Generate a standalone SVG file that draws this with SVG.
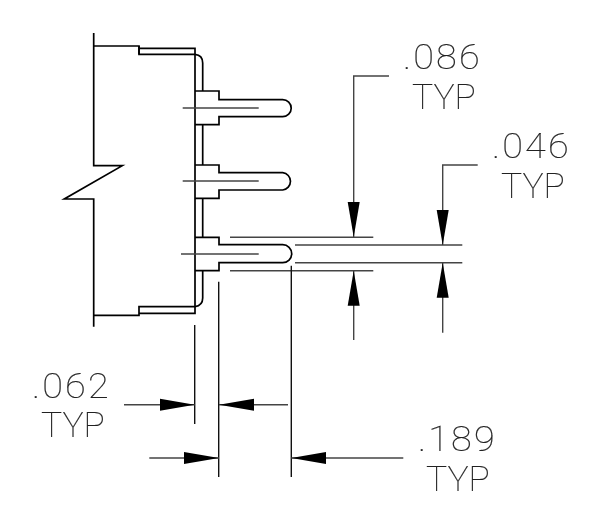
<svg xmlns="http://www.w3.org/2000/svg" width="605" height="519" viewBox="0 0 605 519">
<style>
.b{fill:none;stroke:#000;stroke-width:1.7;stroke-linejoin:miter}
.t{fill:none;stroke:#444;stroke-width:1.4}
.e{fill:none;stroke:#111;stroke-width:1.4}
.l{filter:url(#gray)}
text{font-family:"Roboto","Liberation Sans",sans-serif;font-weight:100;font-size:35px;fill:#222;stroke:#222;stroke-width:.2}
</style>
<defs>
<filter id="gray" x="-10%" y="-10%" width="120%" height="120%"><feOffset dx="0" dy="0"/></filter>
<marker id="ah" markerUnits="userSpaceOnUse" markerWidth="36" markerHeight="14" refX="35" refY="7" orient="auto" viewBox="0 0 36 14"><path d="M0,1 L35,7 L0,13 Z" fill="#000"/></marker>
</defs>
<rect width="605" height="519" fill="#fff"/>
<g id="housing">
<path class="b" d="M93.7,33 V165.7 H122.3 L64.3,199 H93.7 V326.7"/>
<path class="b" d="M93.7,46 H139 V54.3 H195 M139,48.3 H195 V313.3 H139 V306.7 H195 M93.7,315.3 H139 V313.3"/>
<path class="b" d="M139,46 V54.3 M195,54.3 Q202.7,55 202.7,63 V91 M202.7,124.7 V165 M202.7,198.3 V237.3 M202.7,270.7 V298 Q202.7,305.5 195,306.7"/>
</g>
<g id="pin-1">
<path class="b" d="M195,91 H219 V99.7 H282.7 A8.5,8.5 0 0 1 282.7,116.7 H219 V124.7 H195"/>
<path class="t" d="M182.7,108 H258.7"/>
</g>
<g id="pin-2">
<path class="b" d="M195,165 H219 V172.7 H282.7 A8.7,8.7 0 0 1 282.7,190 H219 V198.3 H195"/>
<path class="t" d="M182.7,181 H258.7"/>
</g>
<g id="pin-3">
<path class="b" d="M195,237.3 H219 V244.7 H282.7 A9,9 0 0 1 282.7,262.7 H219 V270.7 H195"/>
<path class="t" d="M181,254 H258.7"/>
</g>
<g id="connectors">
<path class="t" d="M230,237.3 H373.3 M230,270.7 H373.3 M295,245 H462.3 M295,262.7 H462.3"/>
<path class="e" d="M194.7,325 V424 M218.7,281.7 V477 M291.3,265.7 V477"/>
<path class="t" d="M389,76 H353.7 V237" marker-end="url(#ah)"/>
<path class="t" d="M353.7,340 V270.7" marker-end="url(#ah)"/>
<path class="t" d="M477.7,165 H442.7 V245" marker-end="url(#ah)"/>
<path class="t" d="M442.7,332.7 V262.7" marker-end="url(#ah)"/>
<path class="t" d="M124,404.7 H194.7" marker-end="url(#ah)"/>
<path class="t" d="M288,404.7 H219" marker-end="url(#ah)"/>
<path class="t" d="M149.3,458 H219" marker-end="url(#ah)"/>
<path class="t" d="M403.3,458 H291.3" marker-end="url(#ah)"/>
</g>
<g id="label-086" class="l"><text transform="translate(403,69) scale(1.08,1)" letter-spacing="2">.086</text><text transform="translate(412,108.7) scale(1.01,1)">TYP</text></g>
<g id="label-046" class="l"><text transform="translate(492,158) scale(1.08,1)" letter-spacing="2">.046</text><text transform="translate(501,197.7) scale(1.01,1)">TYP</text></g>
<g id="label-062" class="l"><text transform="translate(32,397.7) scale(1.08,1)" letter-spacing="2">.062</text><text transform="translate(41,437) scale(1.01,1)">TYP</text></g>
<g id="label-189" class="l"><text transform="translate(418,450.7) scale(1.08,1)" letter-spacing="2">.189</text><text transform="translate(426,490.7) scale(1.01,1)">TYP</text></g>
</svg>
